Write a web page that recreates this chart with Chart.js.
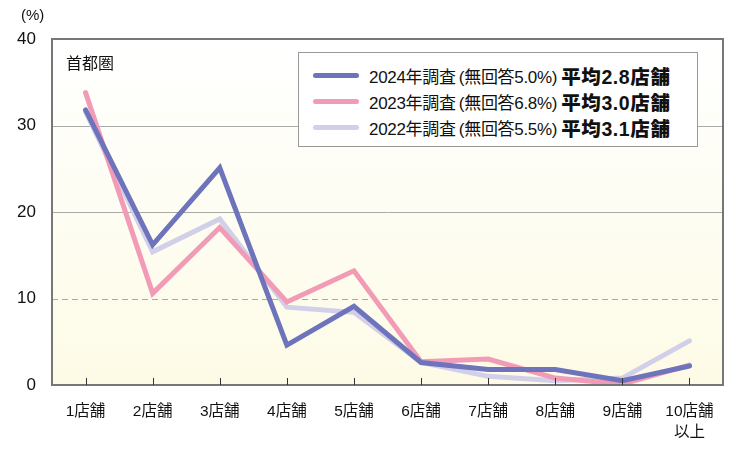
<!DOCTYPE html>
<html lang="ja">
<head>
<meta charset="utf-8">
<script src="https://cdn.jsdelivr.net/npm/chart.js@4/dist/chart.umd.min.js"></script>
<style>
  html, body { margin: 0; padding: 0; background: #fff; }
  #wrap { position: relative; width: 750px; height: 468px; font-family: "Liberation Sans", "Noto Sans CJK JP", sans-serif; color: #111; }
  #legend {
    position: absolute; left: 298px; top: 52px; width: 400px; height: 95px;
    background: #fff; border: 1px solid #999; box-sizing: border-box;
  }
  .row { position: absolute; left: 14px; height: 26px; display: flex; align-items: center; white-space: nowrap; }
  .swatch { width: 46px; height: 5px; border-radius: 3px; margin-right: 10px; }
  .lbl { font-size: 17px; letter-spacing: -0.3px; }
  .avg { font-size: 19.5px; font-weight: 900; margin-left: 4px; letter-spacing: 0.6px; }
  .txt { position: absolute; }
</style>
</head>
<body>
<div id="wrap">
  <canvas id="chart" width="750" height="468"></canvas>
  <div class="txt" style="left:21px; top:6px; font-size:15px;">(%)</div>
  <div class="txt" style="left:66px; top:50px; font-size:16px;">首都圏</div>
  <div id="legend"></div>
</div>
<script>
// ── Data ───────────────────────────────────────────────────────
const categories = ['1店舗', '2店舗', '3店舗', '4店舗', '5店舗', '6店舗', '7店舗', '8店舗', '9店舗', ['10店舗', '以上']];
const yTicks     = [0, 10, 20, 30, 40];

const values2024 = [31.8, 16.2, 25.1, 4.6, 9.1, 2.6, 1.8, 1.8, 0.5, 2.2];
const values2023 = [33.8, 10.6, 18.2, 9.6, 13.2, 2.7, 3.0, 0.8, 0.1, 2.3];
const values2022 = [31.6, 15.4, 19.2, 9.0, 8.4, 2.6, 1.0, 0.5, 0.8, 5.1];

const seriesNames = ['2024年調査(無回答5.0%)', '2023年調査(無回答6.8%)', '2022年調査(無回答5.5%)'];
const seriesAvg   = ['平均2.8店舗', '平均3.0店舗', '平均3.1店舗'];
const seriesColor = ['#6d74bb', '#f29bb6', '#d2cfe9'];

const FONT = '"Liberation Sans", "Noto Sans CJK JP", sans-serif';

// ── Legend (HTML) ──────────────────────────────────────────────
const legend = document.getElementById('legend');
seriesNames.forEach((name, i) => {
  const row = document.createElement('div');
  row.className = 'row';
  row.style.top = (9 + i * 26) + 'px';
  row.innerHTML = `<span class="swatch" style="background:${seriesColor[i]}"></span>` +
                  `<span class="lbl">${name.replace('(', '&thinsp;(')}</span>` +
                  `<span class="avg">${seriesAvg[i]}</span>`;
  legend.appendChild(row);
});

// ── Plot background, grid and frame ────────────────────────────
const framePlugin = {
  id: 'frame',
  beforeDatasetsDraw(chart) {
    const { ctx, chartArea: a, scales: { y } } = chart;
    ctx.save();
    const g = ctx.createLinearGradient(0, a.top, 0, a.bottom);
    g.addColorStop(0, '#ffffff');
    g.addColorStop(1, '#fdfbe6');
    ctx.fillStyle = g;
    ctx.fillRect(a.left, a.top, a.right - a.left, a.bottom - a.top);

    ctx.lineWidth = 1;
    ctx.strokeStyle = '#aaaaaa';
    for (const v of [10, 20, 30]) {
      const py = Math.round(y.getPixelForValue(v)) + 0.5;
      ctx.setLineDash(v === 10 ? [6, 4] : []);
      ctx.beginPath();
      ctx.moveTo(a.left, py);
      ctx.lineTo(a.right, py);
      ctx.stroke();
    }
    ctx.setLineDash([]);
    ctx.restore();
  },
  afterDatasetsDraw(chart) {
    const { ctx, chartArea: a, scales: { x } } = chart;
    ctx.save();
    ctx.strokeStyle = '#777';
    ctx.lineWidth = 2;
    ctx.strokeRect(a.left, a.top, a.right - a.left, a.bottom - a.top);
    ctx.lineWidth = 1;
    ctx.strokeStyle = '#333';
    categories.forEach((_, i) => {
      const px = Math.round(x.getPixelForValue(i)) + 0.5;
      ctx.beginPath();
      ctx.moveTo(px, a.bottom);
      ctx.lineTo(px, a.bottom - 7);
      ctx.stroke();
    });
    ctx.restore();
  },
};

// ── Chart ──────────────────────────────────────────────────────
const mkSet = (data, i, order) => ({
  label: seriesNames[i],
  data,
  borderColor: seriesColor[i],
  backgroundColor: seriesColor[i],
  borderWidth: 5,
  borderCapStyle: 'round',
  borderJoinStyle: 'miter',
  pointRadius: 0,
  tension: 0,
  order,
});

new Chart(document.getElementById('chart'), {
  type: 'line',
  data: {
    labels: categories,
    datasets: [
      mkSet(values2024, 0, 1),
      mkSet(values2023, 1, 2),
      mkSet(values2022, 2, 3),
    ],
  },
  options: {
    responsive: false,
    animation: false,
    layout: { padding: { top: 39, right: 27, left: 0, bottom: 0 } },
    plugins: { legend: { display: false }, tooltip: { enabled: false } },
    scales: {
      x: {
        offset: true,
        grid: { display: false },
        border: { display: false },
        ticks: { color: '#111', font: { family: FONT, size: 15.5, lineHeight: 1.3 }, padding: 9, maxRotation: 0, autoSkip: false },
        afterFit: s => { s.height = 83; },
      },
      y: {
        min: 0,
        max: 40,
        afterBuildTicks: s => { s.ticks = yTicks.map(v => ({ value: v })); },
        grid: { display: false },
        border: { display: false },
        ticks: { color: '#111', font: { family: FONT, size: 17 }, padding: 8 },
        afterFit: s => { s.width = 52; },
      },
    },
  },
  plugins: [framePlugin],
});
</script>
</body>
</html>
